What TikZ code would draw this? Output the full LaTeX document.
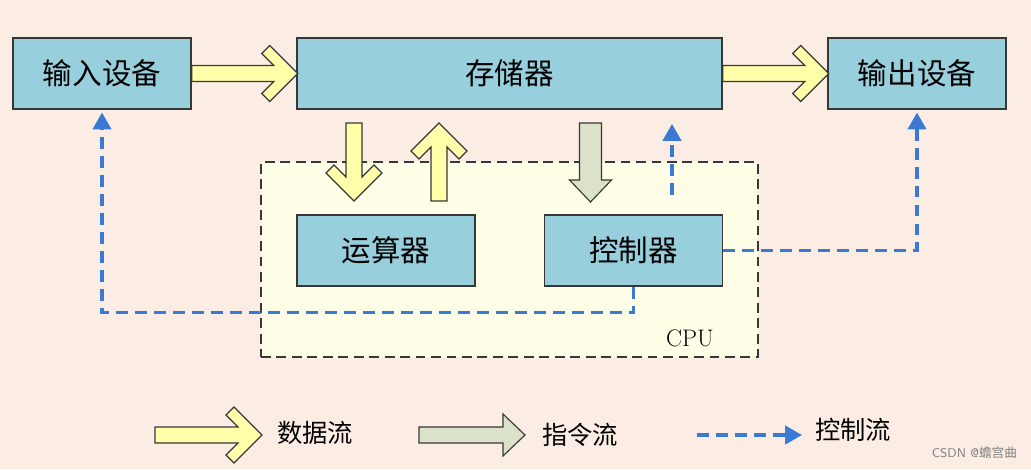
\documentclass[tikz,border=0pt]{standalone}
\usepackage{fontspec}
\newfontfamily\cjk{Noto Sans CJK SC}
\usetikzlibrary{arrows.meta}
\definecolor{peach}{RGB}{252,237,228}
\definecolor{unitblue}{RGB}{152,207,221}
\definecolor{cpuyellow}{RGB}{255,254,230}
\definecolor{datayellow}{RGB}{255,255,170}
\definecolor{instrgray}{RGB}{220,226,201}
\definecolor{ctrlblue}{RGB}{58,122,212}
\definecolor{edgegray}{RGB}{55,55,55}

\begin{document}
\begin{tikzpicture}[x=0.025cm, y=0.025cm,
		unit/.style={draw=edgegray, line width=1pt, fill=unitblue, minimum width=4.45cm, minimum height=1.775cm, inner sep=0pt, font=\cjk\fontsize{21}{24}\selectfont},
		cpubox/.style={draw=edgegray, line width=1pt, dash pattern=on 7pt off 4pt, fill=cpuyellow, minimum width=12.425cm, minimum height=4.875cm},
		ctrlflow/.style={ctrlblue, line width=2.4pt, dash pattern=on 8.5pt off 5pt, -{Triangle[length=12pt, width=13pt]}},
		legendtext/.style={font=\cjk\fontsize{18}{20}\selectfont, anchor=west, inner sep=0pt},
		pics/dataflow/.style={code={
			\filldraw[draw=edgegray, fill=datayellow, line width=0.8pt] (0,-8) -- (#1-24,-8) -- (#1-36,-20) -- (#1-28,-28) -- (#1,0) -- (#1-28,28) -- (#1-36,20) -- (#1-24,8) -- (0,8) -- cycle;
		}},
		pics/instrflow/.style 2 args={code={
			\filldraw[draw=edgegray, fill=instrgray, line width=0.8pt] (0,-#2) -- (#1-22,-#2) -- (#1-22,-21) -- (#1,0) -- (#1-22,21) -- (#1-22,#2) -- (0,#2) -- cycle;
		}}
	]
				\fill[peach] (0,0) rectangle (1031,-469);
				
				\node[cpubox] (cpu) at (509.5,-259.5) {};
				\node[font=\fontsize{17}{20}\selectfont] (cpulabel) at (690,-338) {CPU};
				
				\node[unit] (in) at (102,-73.5) {输入设备};
				\node[unit, minimum width=10.625cm] (mem) at (509.5,-73.5) {存储器};
				\node[unit] (out) at (917,-73.5) {输出设备};
				\node[unit] (alu) at (386,-250.5) {运算器};
				\node[unit] (ctrl) at (633.5,-250.5) {控制器};
				
				\pic at (in.east) {dataflow=106};
				\pic at (mem.east) {dataflow=106};
				\pic[rotate=-90] at (354,-123) {dataflow=78};
				\pic[rotate=90] at (439,-201) {dataflow=78};
				\pic[rotate=-90] at (590.5,-123) {instrflow={79}{11}};
				
				\coordinate (ctrlup) at (672,-195);
				\coordinate (memdown) at (672,-124);
				\draw[ctrlflow] (ctrlup) -- (memdown);
				\draw[ctrlflow, shorten >=2pt] (ctrl.east) -| (out.south);
				\draw[ctrlflow, shorten >=2pt] (ctrl.south) -- ++(0,-26) -| (in.south);
				
				\pic at (155,-435) {dataflow=107};
				\node[legendtext] (datakey) at (277,-433) {数据流};
				\pic at (419,-435) {instrflow={106}{8}};
				\node[legendtext] (instrkey) at (542,-435) {指令流};
				\coordinate (ctrlkeyA) at (697,-435);
				\coordinate (ctrlkeyB) at (802,-435);
				\draw[ctrlflow] (ctrlkeyA) -- (ctrlkeyB);
				\node[legendtext] (ctrlkey) at (815,-430) {控制流};
				
				\node[font=\sffamily\fontsize{9}{10}\selectfont, text=gray, anchor=east] (mark) at (1022,-453) {CSDN @{\cjk 蟾宫曲}};
			\end{tikzpicture}
\end{document}
